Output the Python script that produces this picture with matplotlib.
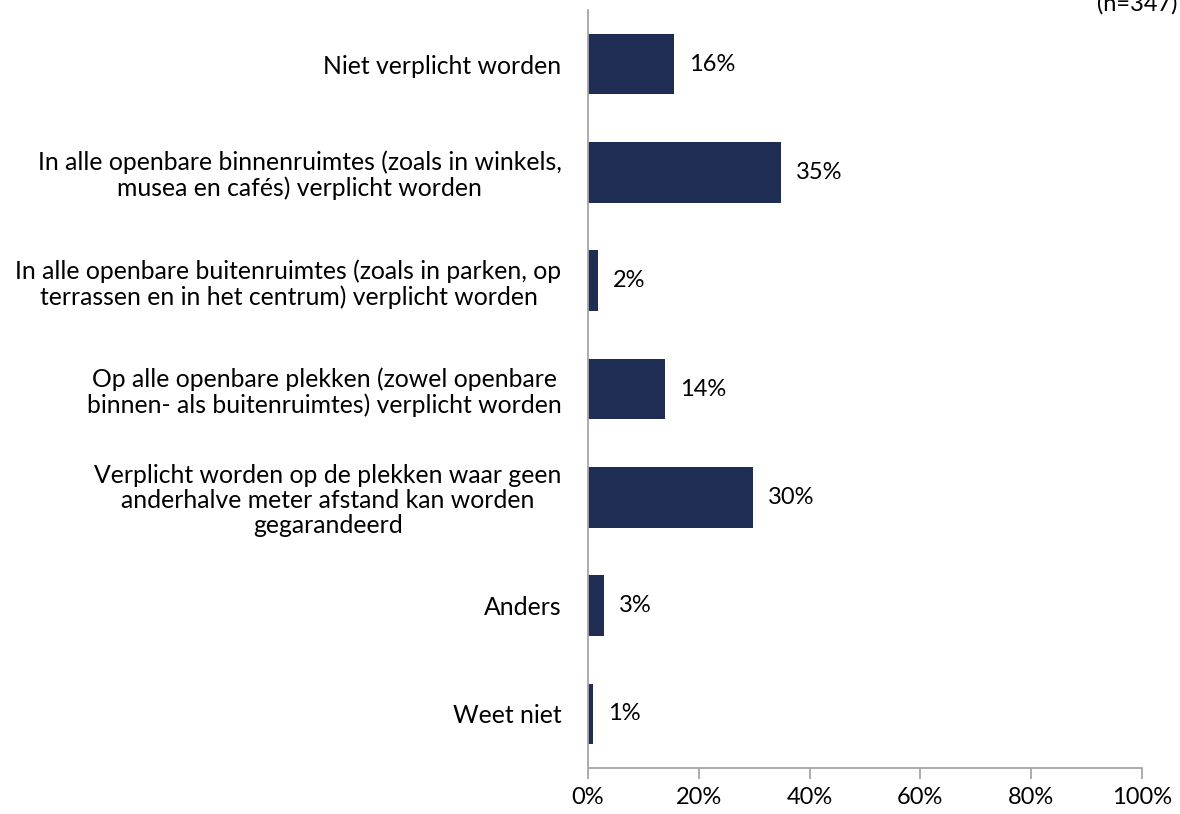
import matplotlib
matplotlib.use('Agg')
import matplotlib.pyplot as plt
from matplotlib.ticker import FuncFormatter

plt.rcParams['font.family'] = ['Lato', 'DejaVu Sans']

# data
categories = [
    'Niet verplicht worden',
    'In alle openbare binnenruimtes (zoals in winkels,\nmusea en cafés) verplicht worden',
    'In alle openbare buitenruimtes (zoals in parken, op\nterrassen en in het centrum) verplicht worden',
    'Op alle openbare plekken (zowel openbare\nbinnen- als buitenruimtes) verplicht worden',
    'Verplicht worden op de plekken waar geen\nanderhalve meter afstand kan worden\ngegarandeerd',
    'Anders',
    'Weet niet',
]
values = [15.5, 34.8, 1.8, 13.9, 29.8, 2.9, 0.9]
value_labels = ['16%', '35%', '2%', '14%', '30%', '3%', '1%']
xticks = [0, 20, 40, 60, 80, 100]
note = '(n=347)'

bar_color = '#1F2D54'
axis_color = '#A6A6A6'
fs = 17

fig = plt.figure(figsize=(11.8, 8.14), dpi=100)
ax = fig.add_axes([588 / 1180, 46 / 814, 554 / 1180, 758 / 814])

ypos = list(range(len(categories)))
ax.barh(ypos, values, height=0.56, color=bar_color)
ax.set_ylim(len(categories) - 0.5, -0.5)
ax.set_xlim(0, 100)

for y, v, lab in zip(ypos, values, value_labels):
    ax.annotate(lab, (v, y), xytext=(11, 0), textcoords='offset points',
                va='center', ha='left', fontsize=fs, color='#000000')

ax.set_yticks(ypos)
ax.set_yticklabels(categories, fontsize=17.8, ha='right', multialignment='center',
                   linespacing=1.12)
ax.tick_params(axis='y', length=0, pad=19)

ax.set_xticks(xticks)
ax.xaxis.set_major_formatter(FuncFormatter(lambda x, p: f'{int(x)}%'))
ax.tick_params(axis='x', length=8, width=1.3, color=axis_color, direction='out',
               labelsize=fs, pad=6)

for s in ['top', 'right']:
    ax.spines[s].set_visible(False)
for s in ['left', 'bottom']:
    ax.spines[s].set_color(axis_color)
    ax.spines[s].set_linewidth(1.3)

fig.text(1097 / 1180, 1 - 4 / 814, note, fontsize=fs, ha='left', va='center')

fig.savefig('out.png', dpi=100)
